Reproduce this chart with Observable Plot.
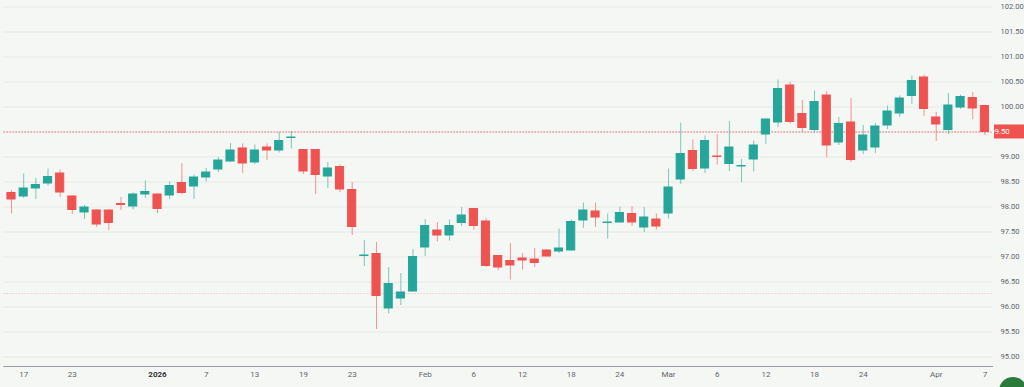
<!DOCTYPE html>
<html>
<head>
<meta charset="utf-8">
<script src="https://cdn.jsdelivr.net/npm/d3@7"></script>
<script src="https://cdn.jsdelivr.net/npm/@observablehq/plot@0.6"></script>
<style>
html, body { margin: 0; padding: 0; background: #f5f7f4; overflow: hidden; }
#chart { position: relative; width: 1024px; height: 387px; overflow: hidden; }
#badge { position: absolute; left: 999px; top: 377px; width: 28px; height: 28px; border-radius: 50%; background: #2a7b3b; }
</style>
</head>
<body>
<div id="chart"><div id="badge"></div></div>
<script>
// ---- data (trading days) ----
const dates = [
  "2025-12-16","2025-12-17","2025-12-18","2025-12-19","2025-12-22","2025-12-23","2025-12-24","2025-12-25","2025-12-26","2025-12-29","2025-12-30","2025-12-31",
  "2026-01-01","2026-01-02","2026-01-05","2026-01-06","2026-01-07","2026-01-08","2026-01-09","2026-01-12","2026-01-13","2026-01-14","2026-01-15","2026-01-16",
  "2026-01-19","2026-01-20","2026-01-21","2026-01-22","2026-01-23","2026-01-26","2026-01-27","2026-01-28","2026-01-29","2026-01-30",
  "2026-02-02","2026-02-03","2026-02-04","2026-02-05","2026-02-06","2026-02-09","2026-02-10","2026-02-11","2026-02-12","2026-02-13",
  "2026-02-16","2026-02-17","2026-02-18","2026-02-19","2026-02-20","2026-02-23","2026-02-24","2026-02-25","2026-02-26","2026-02-27",
  "2026-03-02","2026-03-03","2026-03-04","2026-03-05","2026-03-06","2026-03-09","2026-03-10","2026-03-11","2026-03-12","2026-03-13",
  "2026-03-16","2026-03-17","2026-03-18","2026-03-19","2026-03-20","2026-03-23","2026-03-24","2026-03-25","2026-03-26","2026-03-27",
  "2026-03-30","2026-03-31","2026-04-01","2026-04-02","2026-04-03","2026-04-06","2026-04-07"
];
const open = [
  98.28,98.21,98.37,98.47,98.67,98.21,97.89,97.93,97.93,98.06,98.01,98.25,
  98.25,98.23,98.48,98.41,98.59,98.75,98.91,99.17,98.89,99.19,99.13,99.38,
  99.14,99.14,98.61,98.80,98.34,97.02,97.06,95.97,96.17,96.31,
  97.19,97.53,97.43,97.68,97.96,97.71,97.02,96.92,96.97,96.95,
  97.13,97.11,97.13,97.73,97.91,97.68,97.69,97.86,97.59,97.75,
  97.87,98.55,99.12,98.77,99.01,98.86,98.81,98.95,99.45,99.69,
  100.43,99.86,99.54,100.23,99.29,99.69,99.13,99.19,99.63,99.87,
  100.22,100.59,99.79,99.54,99.99,100.18,100.02
];
const high = [
  98.33,98.66,98.57,98.76,98.74,98.22,98.03,97.94,97.94,98.19,98.28,98.52,
  98.26,98.50,98.87,98.64,98.77,98.99,99.27,99.26,99.24,99.26,99.49,99.51,
  99.15,99.15,98.89,98.84,98.49,97.33,97.29,96.79,96.67,97.15,
  97.75,97.69,97.74,97.99,97.97,97.77,97.03,97.27,97.07,97.17,
  97.14,97.56,97.74,98.08,98.08,97.86,98.00,98.01,97.99,97.86,
  98.76,99.68,99.34,99.42,99.45,99.71,98.95,99.32,99.76,100.54,
  100.49,100.13,100.32,100.31,99.79,100.17,99.63,99.67,100.02,100.22,
  100.62,100.64,99.89,100.27,100.24,100.29,100.03
];
const low = [
  97.86,98.17,98.15,98.42,98.19,97.85,97.75,97.59,97.53,97.93,97.94,98.17,
  97.87,98.15,98.25,98.15,98.50,98.69,98.89,98.67,98.85,98.93,99.08,99.16,
  98.65,98.25,98.37,98.29,97.43,96.81,95.55,95.86,96.03,96.30,
  97.01,97.30,97.32,97.61,97.54,96.79,96.73,96.54,96.74,96.79,
  97.00,97.07,97.12,97.57,97.59,97.36,97.68,97.61,97.49,97.54,
  97.76,98.45,98.71,98.67,98.84,98.71,98.49,98.70,99.25,99.59,
  99.66,99.49,99.48,98.98,99.23,98.89,99.05,99.07,99.55,99.79,
  100.05,99.81,99.31,99.45,99.95,99.75,99.43
];
const close = [
  98.15,98.37,98.44,98.60,98.29,97.94,97.99,97.65,97.68,98.04,98.25,98.30,
  97.96,98.42,98.28,98.59,98.69,98.93,99.13,98.87,99.13,99.13,99.32,99.39,
  98.71,98.64,98.77,98.35,97.60,97.03,96.22,96.46,96.29,97.00,
  97.62,97.43,97.62,97.83,97.62,96.82,96.79,96.83,96.93,96.88,
  97.01,97.17,97.70,97.93,97.79,97.69,97.88,97.69,97.79,97.61,
  98.39,99.06,98.76,99.32,99.00,99.19,98.82,99.23,99.75,100.36,
  99.70,99.58,100.10,99.23,99.66,98.94,99.43,99.61,99.91,100.17,
  100.52,99.96,99.65,100.03,100.20,99.97,99.50
];
const tickDates  = ["2025-12-17","2025-12-23","2026-01-01","2026-01-07","2026-01-13","2026-01-19","2026-01-23","2026-02-02","2026-02-06","2026-02-12","2026-02-18","2026-02-24","2026-03-02","2026-03-06","2026-03-12","2026-03-18","2026-03-24","2026-04-01","2026-04-07"];
const tickLabels = ["17","23","2026","7","13","19","23","Feb","6","12","18","24","Mar","6","12","18","24","Apr","7"];
const yTicks = [95,95.5,96,96.5,97,97.5,98,98.5,99,99.5,100,100.5,101,101.5,102];
const refLines = [96.27];

// ---- build ----
const candles = dates.map((d, i) => ({date: d, open: open[i], high: high[i], low: low[i], close: close[i]}));
const up = "#26a69a", down = "#ef5350";
const col = d => d.close >= d.open ? up : down;
const lastClose = close[close.length - 1];
const W = 1024, H = 387, mR = 32;
// the last-price badge covers its own tick label, so that label is not drawn twice
const yLabelTicks = yTicks.filter(t => Math.abs(t - lastClose) > 0.2);

const chart = Plot.plot({
  width: W, height: H,
  marginLeft: 3.4, marginRight: mR, marginTop: 0, marginBottom: 21,
  style: {background: "#f5f7f4", fontFamily: "Roboto, sans-serif", fontSize: "8px", color: "#62656e", overflow: "hidden"},
  x: {type: "band", domain: dates, padding: 0.25, round: false, label: null},
  y: {domain: [94.81, 102.13], label: null},
  color: {type: "identity"},
  marks: [
    Plot.gridY(yTicks, {stroke: "#e6e9e5", strokeOpacity: 1}),
    Plot.ruleY(refLines, {stroke: "#f2a3a3", strokeDasharray: "1.5,1.5", strokeOpacity: 0.55}),
    Plot.ruleY([lastClose], {stroke: down, strokeDasharray: "1.5,1.5", strokeOpacity: 0.85}),
    Plot.ruleX(candles, {x: "date", y1: "low", y2: "high", stroke: col, strokeOpacity: 0.6}),
    Plot.barY(candles, {x: "date", y1: "open", y2: "close", fill: col, stroke: col, strokeWidth: 1, insetLeft: 0.5, insetRight: 0.5}),
    Plot.axisY(yLabelTicks, {anchor: "right", tickSize: 0, tickPadding: 8, fontSize: 7.6, tickFormat: d => d.toFixed(2), label: null}),
    Plot.axisX(tickDates, {anchor: "bottom", tickSize: 0, tickPadding: 5, tickFormat: d => tickLabels[tickDates.indexOf(d)], label: null}),
    Plot.frame({anchor: "bottom", stroke: "#9a9ca3"})
  ]
});

const svg = d3.select(chart);
svg.selectAll("text").filter(function() { return this.textContent === "2026"; })
  .attr("font-weight", "bold").attr("fill", "#333");
const yPos = chart.scale("y").apply(lastClose);
const g = svg.append("g");
g.append("rect").attr("x", W - mR + 2).attr("y", yPos - 7).attr("width", mR).attr("height", 14).attr("fill", down);
g.append("text").attr("x", W - mR + 8).attr("y", yPos).attr("dy", "0.32em")
  .attr("fill", "white").attr("font-size", "7.6px").attr("font-family", "Roboto, sans-serif").text(lastClose.toFixed(2));

document.getElementById("chart").prepend(chart);
</script>
</body>
</html>
